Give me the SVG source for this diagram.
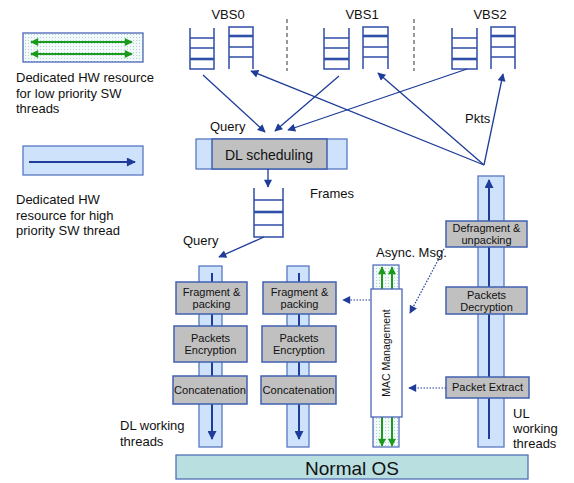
<svg xmlns="http://www.w3.org/2000/svg" width="574" height="483" viewBox="0 0 574 483">
<style>
text{font-family:"Liberation Sans",Arial,sans-serif;fill:#111}
.lbl{font-size:13px}
.box{font-size:11px;text-anchor:middle}
.q{fill:none;stroke:#2f4fa8;stroke-width:1.5}
.qt{fill:none;stroke:#2f4fa8;stroke-width:2.6}
.col{fill:#cfe2fb;stroke:#5878c0;stroke-width:1.3}
.gray{fill:#c0c0c0;stroke:#4060b0;stroke-width:1.5}
.ln{fill:none;stroke:#1e3c98;stroke-width:1.3}
.thk{fill:none;stroke:#1e3c98;stroke-width:2}
.dot{fill:none;stroke:#1e3c98;stroke-width:1.2;stroke-dasharray:1.5 1.5}
.grn{fill:none;stroke:#1c9a1c;stroke-width:2}
</style>
<defs>
<marker id="ah" viewBox="0 0 10 10" refX="9" refY="5" markerWidth="10" markerHeight="9" markerUnits="userSpaceOnUse" orient="auto"><path d="M0,0 L10,5 L0,10 z" fill="#1e3c98"/></marker>
<marker id="ahs" viewBox="0 0 10 10" refX="9" refY="5" markerWidth="9" markerHeight="8" markerUnits="userSpaceOnUse" orient="auto"><path d="M0,0 L10,5 L0,10 z" fill="#1e3c98"/></marker>
<marker id="ag" viewBox="0 0 10 10" refX="9" refY="5" markerWidth="9" markerHeight="8" markerUnits="userSpaceOnUse" orient="auto"><path d="M0,0 L10,5 L0,10 z" fill="#1c9a1c"/></marker>
<marker id="agr" viewBox="0 0 10 10" refX="1" refY="5" markerWidth="9" markerHeight="8" markerUnits="userSpaceOnUse" orient="auto"><path d="M10,0 L0,5 L10,10 z" fill="#1c9a1c"/></marker>
<pattern id="dots" width="3" height="3" patternUnits="userSpaceOnUse"><rect width="3" height="3" fill="#f4fafa"/><rect x="1" y="1" width="1" height="1" fill="#a8d4d8"/></pattern>
</defs>

<g id="legend-low">
<rect x="23" y="33" width="120" height="29" fill="url(#dots)" stroke="#4a66b8" stroke-width="1.3"/>
<line x1="31" y1="42" x2="132" y2="42" class="grn" marker-start="url(#agr)" marker-end="url(#ag)"/>
<line x1="31" y1="54" x2="132" y2="54" class="grn" marker-start="url(#agr)" marker-end="url(#ag)"/>
<text class="lbl" x="16" y="82">Dedicated HW resource</text>
<text class="lbl" x="16" y="98">for low priority SW</text>
<text class="lbl" x="16" y="113">threads</text>
</g>

<g id="legend-high">
<rect x="23" y="146" width="120" height="29" class="col"/>
<line x1="29" y1="162" x2="135" y2="162" class="thk" marker-end="url(#ah)"/>
<text class="lbl" x="16" y="204">Dedicated HW</text>
<text class="lbl" x="16" y="220">resource for high</text>
<text class="lbl" x="16" y="235">priority SW thread</text>
</g>

<g id="separators">
<line x1="287" y1="19" x2="287" y2="71" stroke="#333" stroke-width="1" stroke-dasharray="4 3"/>
<line x1="414" y1="19" x2="414" y2="71" stroke="#333" stroke-width="1" stroke-dasharray="4 3"/>
</g>

<g id="vbs0">
<text class="lbl" x="228" y="19" text-anchor="middle">VBS0</text>
<path class="q" d="M190,28 V69 H214 V28 M190,38 H214 M190,48 H214"/>
<path class="qt" d="M190,59 H214"/>
<path class="q" d="M229,69 V27 H253 V69 M229,47 H253 M229,57 H253"/>
<path class="qt" d="M229,36 H253"/>
</g>
<g id="vbs1">
<text class="lbl" x="362" y="19" text-anchor="middle">VBS1</text>
<path class="q" d="M324,28 V69 H349 V28 M324,38 H349 M324,48 H349"/>
<path class="qt" d="M324,59 H349"/>
<path class="q" d="M363,69 V27 H388 V69 M363,47 H388 M363,57 H388"/>
<path class="qt" d="M363,36 H388"/>
</g>
<g id="vbs2">
<text class="lbl" x="490" y="19" text-anchor="middle">VBS2</text>
<path class="q" d="M452,28 V69 H477 V28 M452,38 H477 M452,48 H477"/>
<path class="qt" d="M452,59 H477"/>
<path class="q" d="M491,69 V27 H515 V69 M491,47 H515 M491,57 H515"/>
<path class="qt" d="M491,36 H515"/>
</g>

<g id="dl-scheduling">
<rect x="196" y="139" width="151" height="30" class="col"/>
<rect x="212" y="139" width="115" height="30" class="gray" stroke-width="1.2"/>
<text x="269" y="160" font-size="14" text-anchor="middle">DL scheduling</text>
</g>

<g id="frames-queue">
<path class="q" d="M254,188 V237 H283 V188 M254,200 H283 M254,225 H283"/>
<path class="qt" d="M254,212 H283"/>
<text class="lbl" x="310" y="198">Frames</text>
</g>

<g id="dl-thread-1">
<rect x="199" y="266" width="23" height="181" class="col"/>
<line x1="212" y1="273" x2="212" y2="439" class="thk" marker-end="url(#ah)"/>
<rect x="176" y="282" width="71" height="32" class="gray"/>
<text class="box" x="211.5" y="296">Fragment &amp;</text>
<text class="box" x="211.5" y="308">packing</text>
<rect x="174" y="326" width="73" height="36" class="gray"/>
<text class="box" x="210.5" y="342">Packets</text>
<text class="box" x="210.5" y="354">Encryption</text>
<rect x="173" y="376" width="74" height="28" class="gray"/>
<text class="box" x="210" y="394" textLength="72" lengthAdjust="spacingAndGlyphs">Concatenation</text>
</g>

<g id="dl-thread-2">
<rect x="287" y="266" width="22" height="181" class="col"/>
<line x1="299" y1="273" x2="299" y2="439" class="thk" marker-end="url(#ah)"/>
<rect x="263" y="282" width="73" height="32" class="gray"/>
<text class="box" x="299.5" y="296">Fragment &amp;</text>
<text class="box" x="299.5" y="308">packing</text>
<rect x="262" y="326" width="74" height="36" class="gray"/>
<text class="box" x="299" y="342">Packets</text>
<text class="box" x="299" y="354">Encryption</text>
<rect x="261" y="376" width="75" height="28" class="gray"/>
<text class="box" x="298.5" y="394" textLength="72" lengthAdjust="spacingAndGlyphs">Concatenation</text>
</g>

<g id="mac-management">
<rect x="373" y="265" width="26" height="182" fill="url(#dots)" stroke="#4a66b8" stroke-width="1.2"/>
<line x1="382" y1="289" x2="382" y2="267" class="grn" marker-end="url(#ag)"/>
<line x1="392" y1="289" x2="392" y2="267" class="grn" marker-end="url(#ag)"/>
<line x1="382" y1="417" x2="382" y2="446" class="grn" marker-end="url(#ag)"/>
<line x1="392" y1="417" x2="392" y2="446" class="grn" marker-end="url(#ag)"/>
<rect x="371" y="289" width="31" height="128" fill="#fff" stroke="#4a66b8" stroke-width="1.3"/>
<text x="390" y="353" font-size="10.5" text-anchor="middle" transform="rotate(-90 390 353)">MAC Management</text>
</g>

<g id="ul-thread">
<rect x="478" y="176" width="26" height="271" class="col"/>
<line x1="489" y1="439" x2="489" y2="180" class="thk" marker-end="url(#ah)"/>
<rect x="446" y="221" width="81" height="26" class="gray"/>
<text class="box" x="486.5" y="232">Defragment &amp;</text>
<text class="box" x="486.5" y="244">unpacking</text>
<rect x="446" y="287" width="81" height="27" class="gray"/>
<text class="box" x="486.5" y="299">Packets</text>
<text class="box" x="486.5" y="311">Decryption</text>
<rect x="446" y="377" width="83" height="21" class="gray"/>
<text class="box" x="487.5" y="391">Packet Extract</text>
</g>

<g id="normal-os">
<rect x="176" y="455" width="352" height="24" fill="#b9dfe0" stroke="#5070b8" stroke-width="1.3"/>
<text x="352" y="475" font-size="19" text-anchor="middle">Normal OS</text>
</g>

<g id="labels">
<text class="lbl" x="210" y="131">Query</text>
<text class="lbl" x="183" y="245">Query</text>
<text class="lbl" x="465" y="123">Pkts</text>
<text class="lbl" x="376" y="257">Async. Msg.</text>
<text class="lbl" x="120" y="430">DL working</text>
<text class="lbl" x="120" y="446">threads</text>
<text class="lbl" x="513" y="418">UL</text>
<text class="lbl" x="513" y="433">working</text>
<text class="lbl" x="513" y="448">threads</text>
</g>

<g id="connectors">
<line x1="203" y1="75" x2="265" y2="132" class="ln" marker-end="url(#ahs)"/>
<line x1="339" y1="76" x2="275" y2="131" class="ln" marker-end="url(#ahs)"/>
<line x1="467" y1="69" x2="288" y2="130" class="ln" marker-end="url(#ahs)"/>
<line x1="484" y1="165" x2="251" y2="71" class="ln" marker-end="url(#ahs)"/>
<line x1="484" y1="165" x2="378" y2="73" class="ln" marker-end="url(#ahs)"/>
<line x1="484" y1="165" x2="503" y2="74" class="ln" marker-end="url(#ahs)"/>
<line x1="268" y1="169" x2="268" y2="187" class="ln" marker-end="url(#ahs)"/>
<line x1="264" y1="237" x2="219" y2="257" class="ln" marker-end="url(#ahs)"/>
<line x1="370" y1="300" x2="343" y2="300" class="dot" marker-end="url(#ahs)"/>
<line x1="444" y1="249" x2="410" y2="313" class="dot" marker-end="url(#ahs)"/>
<line x1="446" y1="388" x2="409" y2="388" class="dot" marker-end="url(#ahs)"/>
</g>
</svg>
